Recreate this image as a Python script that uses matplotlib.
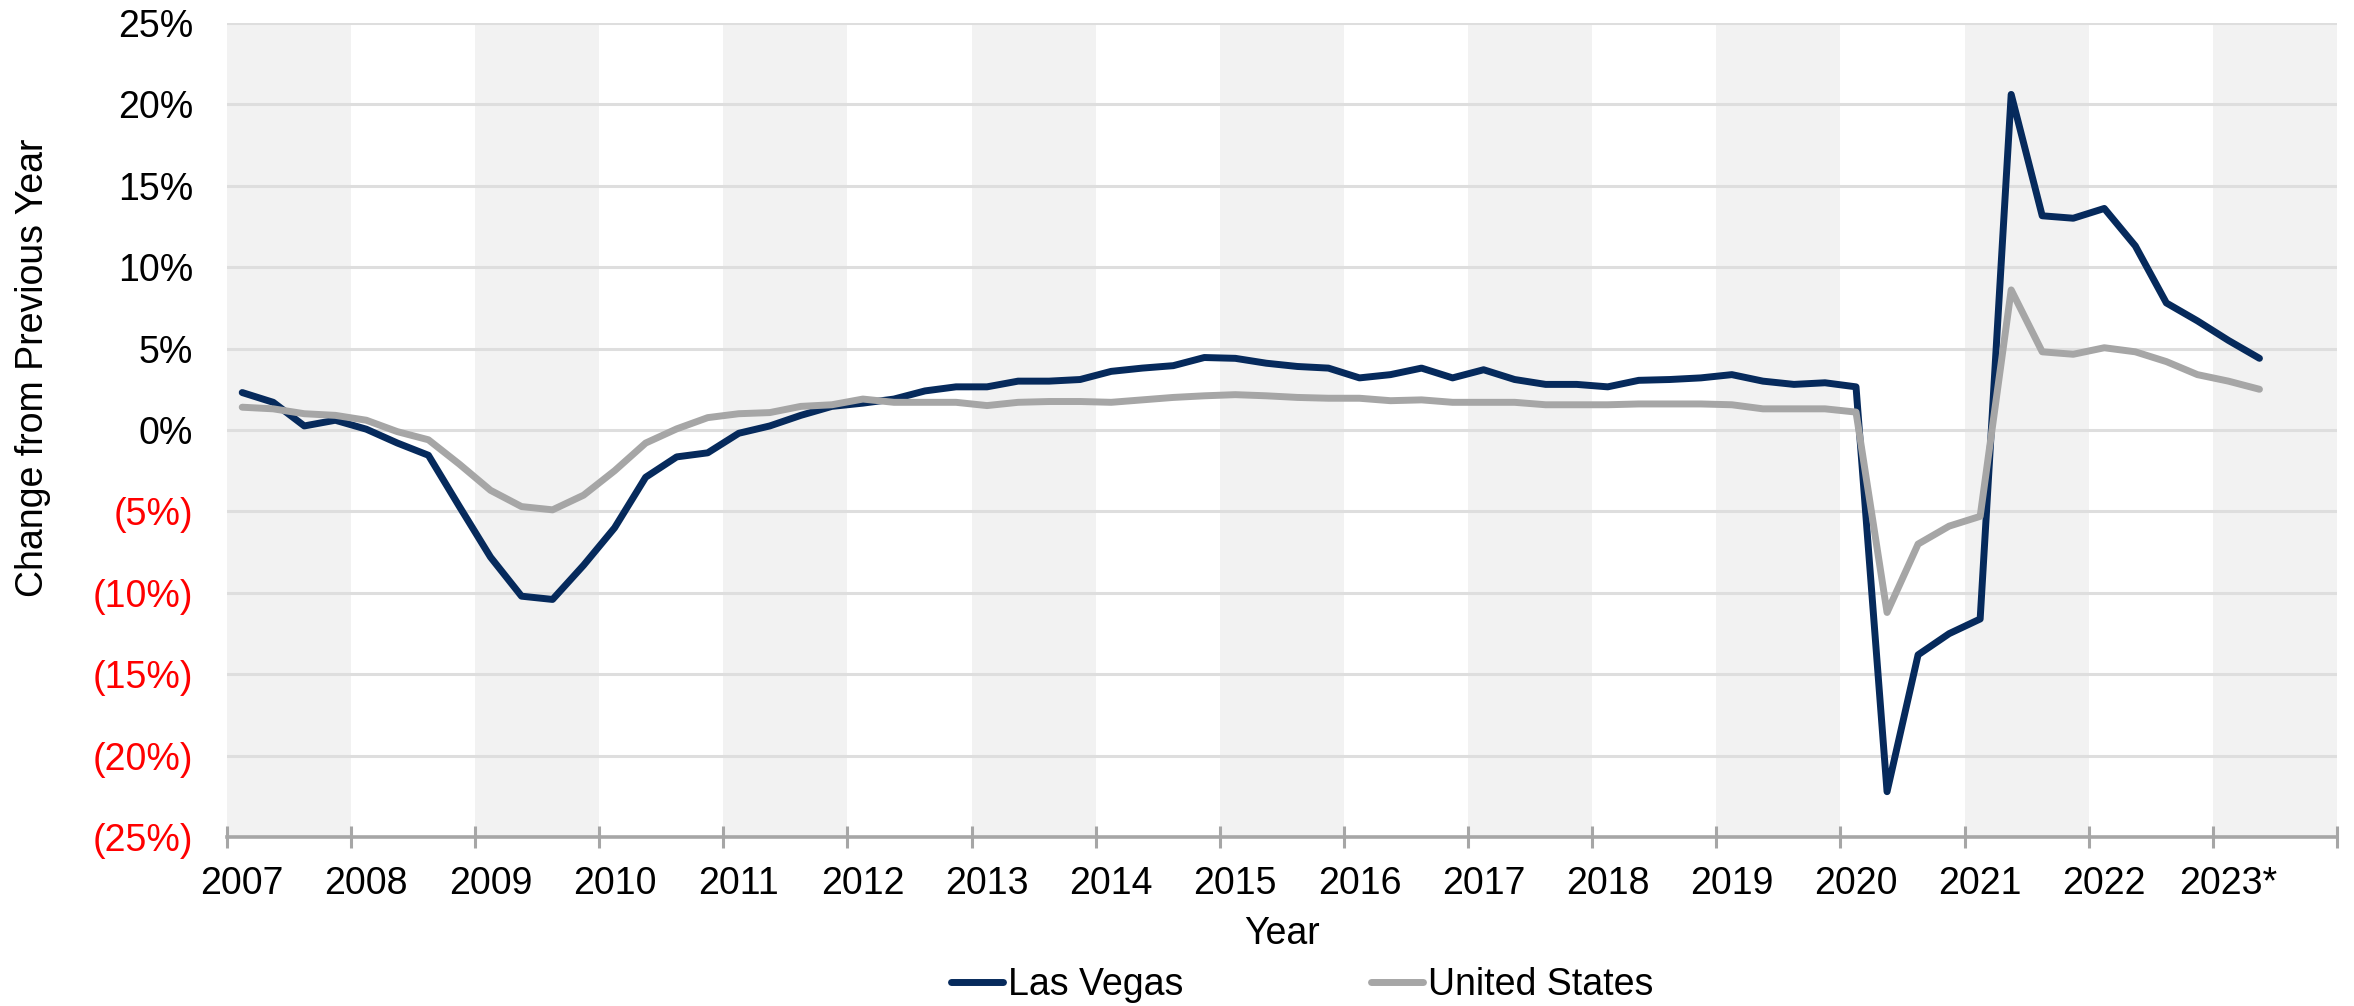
import matplotlib
matplotlib.use("Agg")
import matplotlib.pyplot as plt
import numpy as np

plt.rcParams['font.family'] = ['Liberation Sans', 'DejaVu Sans']

# quarterly year-over-year change, %, 2007 Q1 .. 2023 Q2
las_vegas = [
    2.3, 1.7, 0.25, 0.6,
    0.05, -0.8, -1.55, -4.7,
    -7.8, -10.2, -10.4, -8.3,
    -6.0, -2.9, -1.65, -1.4,
    -0.2, 0.25, 0.9, 1.45,
    1.65, 1.9, 2.4, 2.65,
    2.65, 3.0, 3.0, 3.1,
    3.6, 3.8, 3.95, 4.45,
    4.4, 4.1, 3.9, 3.8,
    3.2, 3.4, 3.8, 3.2,
    3.7, 3.1, 2.8, 2.8,
    2.65, 3.05, 3.1, 3.2,
    3.4, 3.0, 2.8, 2.9,
    2.65, -22.2, -13.8, -12.5,
    -11.6, 20.6, 13.15, 13.0,
    13.6, 11.3, 7.8, 6.7,
    5.5, 4.4,
]
united_states = [
    1.4, 1.3, 1.0, 0.9,
    0.6, -0.1, -0.6, -2.1,
    -3.7, -4.7, -4.9, -4.0,
    -2.5, -0.8, 0.07, 0.76,
    1.0, 1.07, 1.45, 1.55,
    1.9, 1.7, 1.7, 1.7,
    1.5, 1.7, 1.75, 1.75,
    1.7, 1.85, 2.0, 2.1,
    2.17, 2.1, 2.0, 1.95,
    1.95, 1.8, 1.85, 1.7,
    1.7, 1.7, 1.55, 1.55,
    1.55, 1.6, 1.6, 1.6,
    1.55, 1.3, 1.3, 1.3,
    1.1, -11.2, -7.0, -5.9,
    -5.3, 8.6, 4.8, 4.65,
    5.05, 4.8, 4.2, 3.4,
    3.0, 2.5,
]
years = list(range(2007, 2024))
year_labels = [str(y) for y in years[:-1]] + ["2023*"]
y_ticks = list(range(-25, 30, 5))

# each quarter sits at the middle of its quarter of the year
quarters = np.arange(len(las_vegas))
x = years[0] + quarters / 4 + 0.125

fig = plt.figure(figsize=(23.54, 10.06), dpi=100)
ax = fig.add_axes([0.0963, 0.1677, 0.8965, 0.8097])

for y in years[::2]:
    ax.axvspan(y, y + 1, color="#f2f2f2", lw=0, zorder=0)

for t in y_ticks[1:]:
    ax.axhline(t, color="#dedede", lw=2.2, zorder=1)

ax.plot(x, las_vegas, color="#062a5c", lw=5, solid_capstyle="round",
        solid_joinstyle="round", zorder=3, label="Las Vegas")
ax.plot(x, united_states, color="#a6a6a6", lw=5, solid_capstyle="round",
        solid_joinstyle="round", zorder=3, label="United States")

ax.set_xlim(2007, 2024)
ax.set_ylim(-25, 25)

for s in ["left", "right", "top"]:
    ax.spines[s].set_visible(False)
ax.spines["bottom"].set_color("#a6a6a6")
ax.spines["bottom"].set_linewidth(2.6)
ax.spines["bottom"].set_zorder(2)

ax.set_xticks(list(range(2007, 2025)))
ax.set_xticklabels([])
ax.tick_params(axis="x", which="major", direction="inout", length=16,
               width=2.2, color="#a6a6a6")
ax.set_xticks([y + 0.125 for y in years], minor=True)
ax.set_xticklabels(year_labels, minor=True, fontsize=27)
ax.tick_params(axis="x", which="minor", length=0, pad=21)

ax.set_yticks(y_ticks)
ylabels = [f"{t}%" if t >= 0 else f"({-t}%)" for t in y_ticks]
ax.set_yticklabels(ylabels, fontsize=27)
for lab, t in zip(ax.get_yticklabels(), y_ticks):
    lab.set_color("red" if t < 0 else "black")
ax.tick_params(axis="y", length=0, pad=24)

fig.text(0.014, 1 - 368 / 1006, "Change from Previous Year", rotation=90,
         ha="center", va="center", fontsize=27)
fig.text(1282 / 2354, 1 - 934 / 1006, "Year", ha="center", va="center",
         fontsize=27)

fig.legend(loc="center", bbox_to_anchor=(1302 / 2354, 1 - 985 / 1006),
           ncol=2, frameon=False, fontsize=27, handlelength=1.4,
           handletextpad=0.12, columnspacing=5.0, borderpad=0)

fig.savefig("out.png", dpi=100)
